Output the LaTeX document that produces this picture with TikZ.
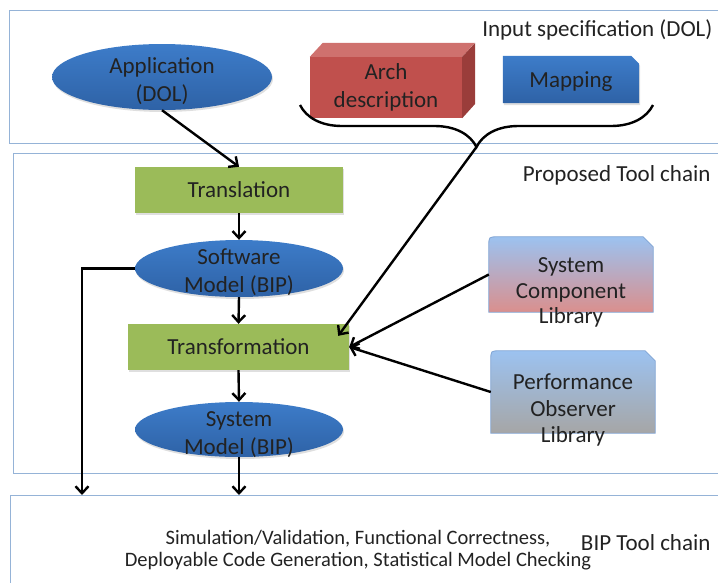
\documentclass[tikz,border=0pt]{standalone}
\usepackage{fontspec}
\setmainfont{Carlito}
\definecolor{panelline}{HTML}{95B3D7}
\definecolor{modelblue}{HTML}{3D7CC9}
\definecolor{modeldark}{HTML}{2E62A6}
\definecolor{stepgreen}{HTML}{9BBB59}
\definecolor{archred}{HTML}{C0504D}
\definecolor{archtop}{HTML}{CF716E}
\definecolor{archside}{HTML}{9A3D3A}
\definecolor{libblue}{HTML}{9CC2F0}
\definecolor{libpink}{HTML}{DA8F8D}
\definecolor{libgrey}{HTML}{A6A6A6}
\definecolor{libedge}{HTML}{7FA3D3}
\definecolor{inktext}{HTML}{222222}
\usetikzlibrary{arrows.meta, calc, decorations.pathreplacing, shadows, shapes.geometric}

\begin{document}
\begin{tikzpicture}[x=1pt, y=-1pt,
		panel/.style={draw=panelline, line width=1.3pt, anchor=north west, minimum width=740pt},
		heading/.style={anchor=east, text=inktext, font=\fontsize{23}{28}\selectfont},
		model/.style={ellipse, top color=modelblue, bottom color=modeldark, minimum width=208pt, minimum height=57pt, drop shadow={opacity=0.25, shadow xshift=1pt, shadow yshift=-2pt}},
		modeltext/.style={align=center, text=inktext, font=\fontsize{23}{28}\selectfont},
		stepbox/.style={fill=stepgreen, minimum width=208pt, minimum height=46pt, text=inktext, font=\fontsize{23}{28}\selectfont, drop shadow={opacity=0.25, shadow xshift=1pt, shadow yshift=-2pt}},
		libbox/.style={minimum width=164pt, inner sep=0pt},
		libshape/.style={draw=libedge, line width=0.8pt, top color=libblue},
		arrow/.style={-{Straight Barb[length=7pt, width=13pt]}, line width=2.4pt},
		brace/.style={decorate, decoration={brace, mirror, amplitude=42pt}, line width=2.4pt}
	]
	\useasboundingbox (0,0) rectangle (718,582);

	% the three layers
	\node[panel, minimum height=133pt] (inpanel) at (9,10) {};
	\node[panel, minimum height=320pt] (toolpanel) at (13,153) {};
	\node[panel, minimum height=120pt] (bippanel) at (10,495) {};
	\node[heading] (inhead) at (716,30) {Input specification (DOL)};
	\node[heading] (toolhead) at (714,175) {Proposed Tool chain};
	\node[heading] (biphead) at (714,543) {BIP Tool chain};

	% input specification
	\node[model, minimum width=220pt, minimum height=66pt] (app) at (162,77) {};
	\node[modeltext] (apptext) at (162,81) {Application\\(DOL)};

	\node[fill=archred, minimum width=152pt, minimum height=61pt, modeltext] (arch) at (386,87.5) {Arch\\description};
	\fill[archtop] (arch.north west) -- ++(13,-14) -- ++(152,0) -- (arch.north east) -- cycle;
	\fill[archside] (arch.north east) -- ++(13,-14) -- ++(0,61) -- (arch.south east) -- cycle;

	\node[minimum width=136pt, minimum height=47pt] (map) at (571,79.5) {};
	\path[top color=modelblue, bottom color=modeldark, drop shadow={opacity=0.25, shadow xshift=1pt, shadow yshift=-2pt}]
		(map.south west) -- (map.north west) -- ($(map.north east)+(-8,0)$) -- ($(map.north east)+(0,8)$) -- (map.south east) -- cycle;
	\node[modeltext] (maptext) at (571,82) {Mapping};

	\draw[brace] (300,105) -- (653,105);
	\coordinate (bracetip) at (476.5,147);

	% proposed tool chain
	\node[stepbox] (transl) at (239,190) {Translation};
	\node[model] (sw) at (239,268.5) {};
	\node[modeltext] (swtext) at (239,272.5) {Software\\Model (BIP)};
	\node[stepbox, minimum width=221pt] (trans) at (238.5,347) {Transformation};
	\node[model, minimum height=55pt] (sys) at (239,429.5) {};
	\node[modeltext] (systext) at (239,435) {System\\Model (BIP)};

	\node[libbox, minimum height=75pt] (comp) at (571,274.5) {};
	\node[libbox, minimum height=82pt] (perf) at (573,392) {};
	\foreach \lib/\low in {comp/libpink, perf/libgrey} {
		\path[libshape, bottom color=\low]
			(\lib.south west) -- ($(\lib.north west)+(0,9)$) .. controls (\lib.north west) .. ($(\lib.north west)+(9,0)$)
			-- ($(\lib.north east)+(-10,0)$) -- ($(\lib.north east)+(0,10)$) -- (\lib.south east) -- cycle;
	}
	\node[modeltext, font=\fontsize{23}{25.5}\selectfont] (comptext) at ($(comp)+(0,18)$) {System\\Component\\Library};
	\node[modeltext, font=\fontsize{23}{26.5}\selectfont] (perftext) at ($(perf)+(0,18)$) {Performance\\Observer\\Library};

	% connectors
	\coordinate (transin) at ($(trans.north east)+(-11,12)$);
	\coordinate (bipleft) at (82,495);
	\draw[arrow] (app.south) -- (transl.north);
	\draw[arrow] (transl.south) -- (sw.north);
	\draw[arrow] (sw.south) -- (trans.north);
	\draw[arrow] (trans.south) -- (sys.north);
	\draw[arrow] (bracetip) -- (transin);
	\draw[arrow] (comp.west) -- (trans.east);
	\draw[arrow] (perf.west) -- (trans.east);
	\draw[arrow] (sw.west) -| (bipleft);
	\draw[arrow] (sys.south) -- (sys.south |- bippanel.north);

	% BIP tool chain
	\node[align=center, text=inktext, font=\fontsize{20.5}{22.5}\selectfont] (checks) at (358,550)
		{Simulation/Validation, Functional Correctness,\\Deployable Code Generation, Statistical Model Checking};
\end{tikzpicture}
\end{document}
